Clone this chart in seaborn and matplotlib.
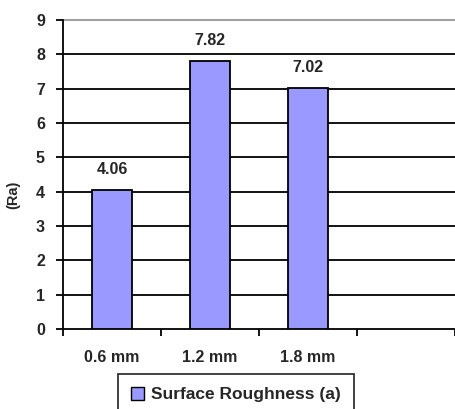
import matplotlib
matplotlib.use("Agg")
import matplotlib.pyplot as plt
import seaborn as sns
import pandas as pd
from matplotlib.patches import Patch

# Surface roughness per depth of cut
categories = ["0.6 mm", "1.2 mm", "1.8 mm"]
roughness = [4.06, 7.82, 7.02]
series_name = "Surface Roughness (a)"
y_ticks = [0, 1, 2, 3, 4, 5, 6, 7, 8, 9]

df = pd.DataFrame({"depth": categories, "Ra": roughness})

sns.set_style("white")
plt.rcParams["font.family"] = ["Liberation Sans", "DejaVu Sans"]
plt.rcParams["font.weight"] = "bold"

bar_color = "#9999FF"
fs = 11.5

fig = plt.figure(figsize=(4.55, 4.09), dpi=100)
ax = fig.add_axes([63 / 455, 1 - 329 / 409, 392 / 455, 309 / 409])

sns.barplot(data=df, x="depth", y="Ra", color=bar_color, width=0.4,
            edgecolor="black", linewidth=1.3, saturation=1, ax=ax, zorder=3)

ax.set_xlim(-0.5, 3.5)
ax.set_ylim(0, 9)

# horizontal gridlines behind the bars
for v in y_ticks[1:-1]:
    ax.axhline(v, color="black", lw=1.3, zorder=1)
ax.axhline(9, color="#a0a0a0", lw=1.5, zorder=1, clip_on=False)

for s in ["top", "right"]:
    ax.spines[s].set_visible(False)
for s in ["left", "bottom"]:
    ax.spines[s].set_color("black")
    ax.spines[s].set_linewidth(1.3)

ax.set_yticks(y_ticks)
ax.set_yticklabels([str(t) for t in y_ticks], fontsize=fs, fontweight="bold")
ax.tick_params(axis="y", left=True, direction="out", length=5, width=1.3,
               color="black", pad=8)

ax.set_xticks(range(len(categories)))
ax.set_xticklabels(categories, fontsize=fs, fontweight="bold")
ax.tick_params(axis="x", which="major", bottom=True, length=0, pad=15)
ax.set_xticks([-0.5, 0.5, 1.5, 2.5, 3.5], minor=True)
ax.tick_params(axis="x", which="minor", bottom=True, direction="out", length=5,
               width=1.3, color="black")

ax.set_xlabel("")
ax.set_ylabel("")
fig.text(13 / 455, 1 - 195 / 409, "(Ra)", rotation=90, ha="center", va="center",
         fontsize=10.5, fontweight="bold")

for i, v in enumerate(roughness):
    ax.annotate(f"{v:.2f}", (i, v), xytext=(0, 9), textcoords="offset points",
                ha="center", va="bottom", fontsize=fs, fontweight="bold")

handle = Patch(facecolor=bar_color, edgecolor="black", linewidth=1.0)
leg = fig.legend([handle], [series_name], loc="upper center",
                 bbox_to_anchor=(236 / 455, 1 - 374 / 409),
                 frameon=True, fancybox=False, prop={"size": 12.5, "weight": "bold"},
                 handlelength=0.75, handleheight=0.75, handletextpad=0.4,
                 borderpad=0.75, borderaxespad=0)
leg.get_frame().set_edgecolor("black")
leg.get_frame().set_linewidth(1.3)

fig.savefig("out.png", dpi=100)
